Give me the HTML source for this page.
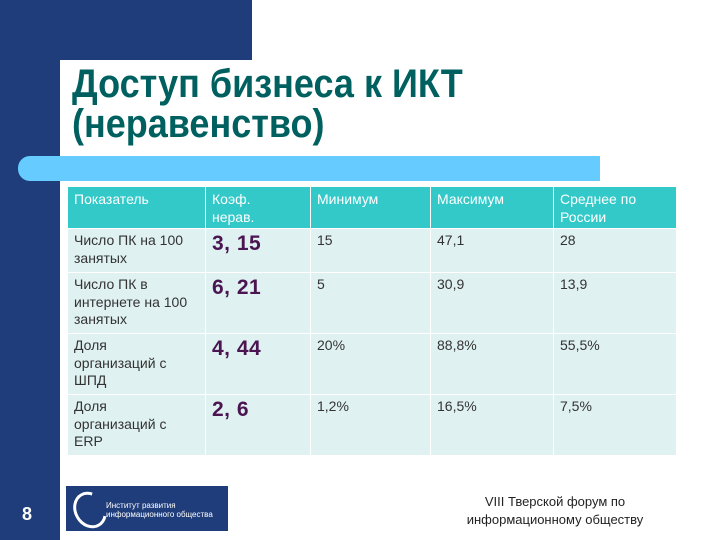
<!DOCTYPE html>
<html><head><meta charset="utf-8">
<style>
body{margin:0;width:720px;height:540px;position:relative;overflow:hidden;background:#fff;font-family:"Liberation Sans",sans-serif}
div{position:absolute}
table{position:absolute;left:67px;top:186px;border-collapse:collapse;table-layout:fixed;width:609px}
td{border:1px solid #fff;vertical-align:top;padding:3px 6px 0 6px;font-size:14px;color:#333;background:#dff1f1;line-height:17.5px;white-space:nowrap;overflow:hidden}
tr.h td{background:#33c9c9;color:#fff;font-size:14px;line-height:18px}
td.k{font-size:21px;font-weight:bold;color:#4a1550;line-height:24px;letter-spacing:0.5px}
</style></head><body>
<div style="left:0;top:0;width:60px;height:540px;background:#1f3d7a"></div>
<div style="left:0;top:0;width:252px;height:60px;background:#1f3d7a"></div>
<div style="left:60px;top:60px;width:660px;height:480px;background:#fff;border-top-left-radius:14px"></div>
<div style="left:72px;top:64px;font-size:40px;font-weight:bold;color:#006060;line-height:40px;transform:scaleX(0.9);transform-origin:0 0;white-space:nowrap">Доступ бизнеса к ИКТ<br>(неравенство)</div>
<div style="left:18px;top:156px;width:582px;height:25px;background:#66ccff;border-radius:12px 0 0 12px"></div>
<table>
<colgroup><col style="width:138px"><col style="width:105px"><col style="width:120px"><col style="width:123px"><col style="width:123px"></colgroup>
<tr class="h" style="height:42px"><td>Показатель</td><td>Коэф.<br>нерав.</td><td>Минимум</td><td>Максимум</td><td>Среднее по<br>России</td></tr>
<tr style="height:44px"><td>Число ПК на 100<br>занятых</td><td class="k">3, 15</td><td>15</td><td>47,1</td><td>28</td></tr>
<tr style="height:61px"><td>Число ПК в<br>интернете на 100<br>занятых</td><td class="k">6, 21</td><td>5</td><td>30,9</td><td>13,9</td></tr>
<tr style="height:61px"><td>Доля<br>организаций с<br>ШПД</td><td class="k">4, 44</td><td>20%</td><td>88,8%</td><td>55,5%</td></tr>
<tr style="height:61px"><td>Доля<br>организаций с<br>ERP</td><td class="k">2, 6</td><td>1,2%</td><td>16,5%</td><td>7,5%</td></tr>
</table>
<div style="left:22px;top:504px;font-size:18px;font-weight:bold;color:#fff">8</div>
<div style="left:66px;top:486px;width:162px;height:45px;background:#1f3d7a">
<div style="left:8px;top:5px;width:26px;height:32px;border:3px solid #fff;border-radius:50%;border-right-color:transparent;transform:rotate(-30deg)"></div>
<div style="left:40px;top:15px;font-size:8px;color:#fff;line-height:9px">Институт развития<br>информационного общества</div>
</div>
<div style="left:440px;top:493px;width:230px;text-align:center;font-size:13px;color:#222;line-height:18px">VIII Тверской форум по информационному обществу</div>
</body></html>
